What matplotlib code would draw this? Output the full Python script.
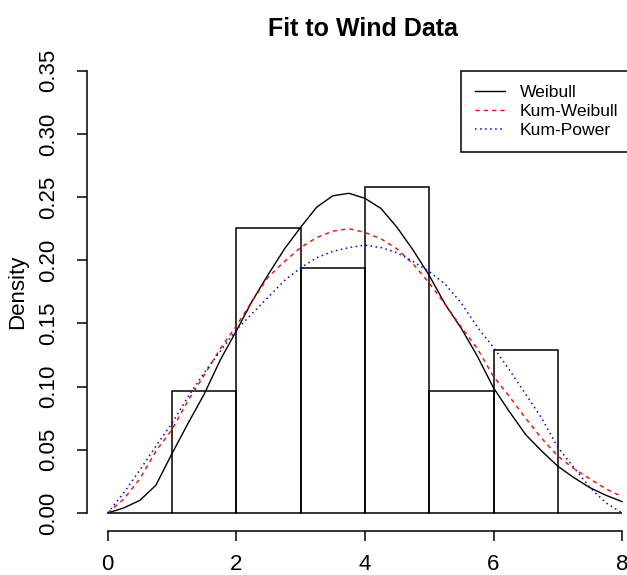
import numpy as np
import matplotlib
matplotlib.use("Agg")
import matplotlib.pyplot as plt

# 直方图: 风速数据 (每 1 单位一个区间)
bin_left = [0, 1, 2, 3, 4, 5, 6, 7]
counts = [0, 3, 7, 6, 8, 3, 4, 0]

# 拟合密度曲线
x_grid = [0.0, 0.25, 0.5, 0.75, 1.0, 1.25, 1.5, 1.75, 2.0, 2.25, 2.5, 2.75,
          3.0, 3.25, 3.5, 3.75, 4.0, 4.25, 4.5, 4.75, 5.0, 5.25, 5.5, 5.75,
          6.0, 6.25, 6.5, 6.75, 7.0, 7.25, 7.5, 7.75, 8.0]
weibull = [0.000, 0.004, 0.010, 0.022, 0.047, 0.071, 0.094, 0.121, 0.144, 0.168, 0.189, 0.209,
           0.226, 0.242, 0.251, 0.253, 0.249, 0.241, 0.226, 0.208, 0.188, 0.165, 0.146, 0.124,
           0.099, 0.080, 0.062, 0.049, 0.037, 0.028, 0.020, 0.014, 0.009]
kum_weibull = [0.000, 0.011, 0.027, 0.049, 0.066, 0.089, 0.109, 0.130, 0.148, 0.168, 0.187, 0.199,
               0.210, 0.218, 0.223, 0.225, 0.222, 0.217, 0.209, 0.197, 0.182, 0.165, 0.147, 0.130,
               0.108, 0.092, 0.075, 0.059, 0.045, 0.035, 0.027, 0.019, 0.013]
kum_power = [0.000, 0.016, 0.034, 0.053, 0.071, 0.092, 0.111, 0.128, 0.145, 0.158, 0.171, 0.184,
             0.194, 0.202, 0.207, 0.210, 0.212, 0.210, 0.206, 0.199, 0.191, 0.181, 0.166, 0.147,
             0.131, 0.113, 0.094, 0.075, 0.052, 0.036, 0.020, 0.008, 0.000]

x_ticks = [0, 2, 4, 6, 8]
y_ticks = [0.00, 0.05, 0.10, 0.15, 0.20, 0.25, 0.30, 0.35]

plt.rcParams['font.family'] = ['Liberation Sans', 'DejaVu Sans']

W, H = 627, 575
fig = plt.figure(figsize=(W / 100, H / 100), dpi=100)
# R 风格的绘图区 (右侧超出画布, 与原图一样被裁掉)
ax = fig.add_axes([87.1 / W, (H - 530.7) / H, 555.6 / W, 477.7 / H])
ax.set_xlim(-0.32, 8.32)
ax.set_ylim(-0.014, 0.364)

density = np.array(counts) / np.sum(counts)
ax.bar(bin_left, density, width=1, align='edge', fill=False,
       edgecolor='black', linewidth=1.1, zorder=2)

ax.plot(x_grid, weibull, color='black', linestyle='-', linewidth=1.0,
        label='Weibull', zorder=3)
ax.plot(x_grid, kum_weibull, color='red', linestyle=(0, (3, 3)), linewidth=1.0,
        label='Kum-Weibull', zorder=3)
ax.plot(x_grid, kum_power, color='blue', linestyle=(0, (1, 2.3)), linewidth=1.1,
        label='Kum-Power', zorder=3)

for s in ['top', 'right']:
    ax.spines[s].set_visible(False)
ax.spines['left'].set_bounds(0, 0.35)
ax.spines['bottom'].set_bounds(0, 8)
ax.spines['left'].set_linewidth(1.1)
ax.spines['bottom'].set_linewidth(1.1)

ax.set_xticks(x_ticks)
ax.set_xticklabels([str(v) for v in x_ticks])
ax.set_yticks(y_ticks)
ax.set_yticklabels([f'{v:.2f}' for v in y_ticks], rotation=90, va='center')
ax.tick_params(axis='both', direction='out', length=7.5, width=1.1, labelsize=16)
ax.tick_params(axis='x', pad=9.5)
ax.tick_params(axis='y', pad=13)

fig.text(18 / W, 1 - 292 / H, 'Density', rotation=90, ha='center', va='center', fontsize=16)
fig.text(363 / W, 1 - 36 / H, 'Fit to Wind Data', ha='center', va='baseline',
         fontsize=18, fontweight='bold')

leg_x0, leg_top, leg_w, leg_h = 461 / W, 1 - 71 / H, 190 / W, 81 / H
ax.legend(loc='upper left', bbox_to_anchor=(leg_x0, leg_top - leg_h, leg_w, leg_h),
          bbox_transform=fig.transFigure, mode='expand', fontsize=12.6,
          fancybox=False, edgecolor='black', framealpha=1, borderaxespad=0,
          handlelength=1.7, handletextpad=0.85, labelspacing=0.2, borderpad=0.8)
ax.get_legend().get_frame().set_linewidth(1.1)

fig.savefig('out.png', dpi=100)
